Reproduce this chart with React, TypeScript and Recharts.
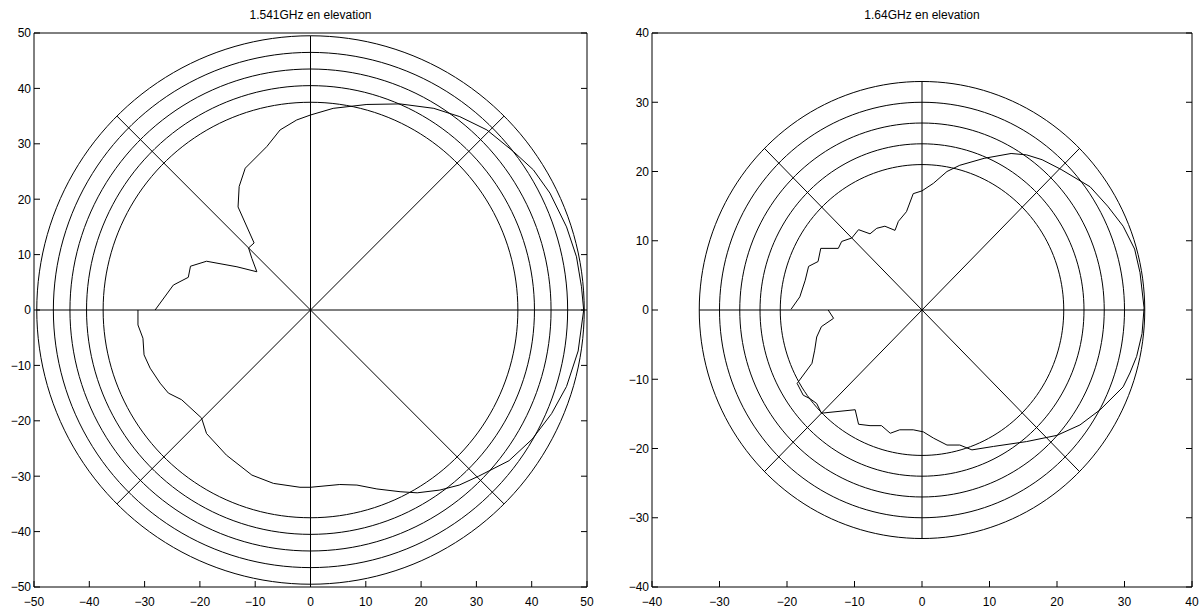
import React from 'react';
import { ScatterChart, Scatter, XAxis, YAxis } from 'recharts';

interface Pt {
  x: number;
  y: number;
}

// 1.541 GHz panel
const ticksA = [-50, -40, -30, -20, -10, 0, 10, 20, 30, 40, 50];
const ringsA = [37.5, 40.5, 43.5, 46.5, 49.5];
const patternA: Pt[] = [
  { x: -28.1, y: 0 }, { x: -24.8, y: 4.5 }, { x: -22.1, y: 5.9 }, { x: -21.7, y: 7.9 },
  { x: -18.8, y: 8.8 }, { x: -13.3, y: 7.8 }, { x: -9.7, y: 6.9 }, { x: -10.6, y: 9.3 },
  { x: -11.2, y: 11.2 }, { x: -10.2, y: 12.1 }, { x: -13.1, y: 18.6 }, { x: -12.9, y: 22.3 },
  { x: -11.8, y: 25.6 }, { x: -7.9, y: 29.5 }, { x: -5.5, y: 32.5 }, { x: -2.5, y: 34.3 },
  { x: 0, y: 35.2 }, { x: 4.1, y: 36.4 }, { x: 10.2, y: 37.1 }, { x: 16.2, y: 37.2 },
  { x: 22.3, y: 36.4 }, { x: 27.0, y: 34.9 }, { x: 31.9, y: 32.5 }, { x: 36.7, y: 28.6 },
  { x: 40.3, y: 25.3 }, { x: 43.3, y: 21.1 }, { x: 46.3, y: 15.0 }, { x: 48.1, y: 9.6 },
  { x: 49.0, y: 4.2 }, { x: 49.4, y: 0 }, { x: 48.4, y: -7.4 }, { x: 46.3, y: -13.8 },
  { x: 43.6, y: -18.7 }, { x: 40.1, y: -23.3 }, { x: 35.9, y: -27.2 }, { x: 30.4, y: -30.0 },
  { x: 26.9, y: -31.6 }, { x: 23.4, y: -32.5 }, { x: 19.3, y: -33.0 }, { x: 16.2, y: -32.8 },
  { x: 12.0, y: -32.3 }, { x: 8.4, y: -31.6 }, { x: 5.3, y: -31.5 }, { x: 0, y: -32.0 },
  { x: -1.9, y: -32.0 }, { x: -6.7, y: -31.3 }, { x: -10.6, y: -29.8 }, { x: -15.2, y: -26.2 },
  { x: -18.8, y: -22.3 }, { x: -19.7, y: -19.5 }, { x: -23.3, y: -16.2 }, { x: -25.7, y: -15.0 },
  { x: -27.2, y: -13.2 }, { x: -29.0, y: -10.5 }, { x: -30.1, y: -8.1 }, { x: -30.3, y: -5.1 },
  { x: -31.2, y: -2.7 }, { x: -31.2, y: 0 },
];

// 1.64 GHz panel
const ticksB = [-40, -30, -20, -10, 0, 10, 20, 30, 40];
const ringsB = [21, 24, 27, 30, 33];
const patternB: Pt[] = [
  { x: -19.4, y: 0.1 }, { x: -18.1, y: 1.9 }, { x: -17.3, y: 4.3 }, { x: -16.8, y: 6.3 },
  { x: -15.4, y: 7.0 }, { x: -15.0, y: 8.9 }, { x: -12.4, y: 8.9 }, { x: -11.9, y: 9.9 },
  { x: -10.4, y: 10.4 }, { x: -9.4, y: 11.6 }, { x: -7.7, y: 11.0 }, { x: -6.7, y: 11.8 },
  { x: -5.5, y: 12.1 }, { x: -4.0, y: 11.5 }, { x: -3.5, y: 12.8 }, { x: -2.3, y: 14.2 },
  { x: -1.3, y: 16.8 }, { x: 0, y: 17.2 }, { x: 1.7, y: 18.3 }, { x: 3.7, y: 20.0 },
  { x: 5.6, y: 20.9 }, { x: 9.2, y: 21.9 }, { x: 13.2, y: 22.6 }, { x: 15.5, y: 22.4 },
  { x: 17.8, y: 21.7 }, { x: 20.6, y: 20.3 }, { x: 24.9, y: 17.8 }, { x: 27.5, y: 15.0 },
  { x: 29.8, y: 12.1 }, { x: 31.5, y: 8.8 }, { x: 32.3, y: 5.4 }, { x: 32.9, y: 0.3 },
  { x: 32.6, y: -3.4 }, { x: 31.8, y: -6.7 }, { x: 30.8, y: -9.1 }, { x: 29.8, y: -11.1 },
  { x: 26.4, y: -14.4 }, { x: 23.4, y: -16.6 }, { x: 20.0, y: -18.1 }, { x: 15.5, y: -19.0 },
  { x: 10.6, y: -19.7 }, { x: 7.4, y: -20.2 }, { x: 5.6, y: -19.5 }, { x: 3.7, y: -19.5 },
  { x: 1.7, y: -18.5 }, { x: 0.2, y: -17.6 }, { x: -1.3, y: -17.3 }, { x: -3.3, y: -17.3 },
  { x: -4.7, y: -17.8 }, { x: -6.0, y: -16.7 }, { x: -7.7, y: -16.7 }, { x: -9.4, y: -16.5 },
  { x: -9.9, y: -14.4 }, { x: -14.9, y: -14.9 }, { x: -15.6, y: -13.5 }, { x: -16.6, y: -12.8 },
  { x: -17.6, y: -12.3 }, { x: -18.5, y: -10.6 }, { x: -16.3, y: -7.7 }, { x: -15.9, y: -5.8 },
  { x: -15.6, y: -3.9 }, { x: -14.9, y: -2.4 }, { x: -13.1, y: -1.2 }, { x: -13.9, y: 0 },
];

const spokeAngles = [0, 45, 90, 135];

const H = 612;
const FONT = '"Liberation Sans", Arial, Helvetica, sans-serif';
const TICK = 6;

const fmt = (v: number) => (v < 0 ? `\u2212${Math.abs(v)}` : `${v}`);

function circlePoints(r: number): Pt[] {
  const pts: Pt[] = [];
  for (let a = 0; a <= 360; a += 2) {
    const t = (a * Math.PI) / 180;
    pts.push({ x: r * Math.cos(t), y: r * Math.sin(t) });
  }
  return pts;
}

function spokePoints(r: number, deg: number): Pt[] {
  const t = (deg * Math.PI) / 180;
  return [
    { x: r * Math.cos(t), y: r * Math.sin(t) },
    { x: -r * Math.cos(t), y: -r * Math.sin(t) },
  ];
}

const noDot = () => <g />;
const lineStyle = { stroke: '#000', strokeWidth: 1 };

interface Box {
  x0: number;
  x1: number;
  y0: number;
  y1: number;
}

interface PanelProps {
  title: string;
  ticks: number[];
  rings: number[];
  pattern: Pt[];
  left: number;
  width: number;
  box: Box;
}

const Panel = ({ title, ticks, rings, pattern, left, width, box }: PanelProps) => {
  const lim: [number, number] = [ticks[0], ticks[ticks.length - 1]];
  const plotL = box.x0 - left;
  const plotR = box.x1 - left;
  const rMax = rings[rings.length - 1];
  const textStyle = { fontFamily: FONT, fontSize: 12, fill: '#000' };

  return (
    <div style={{ position: 'absolute', left, top: 0, width, height: H }}>
      <div
        style={{
          position: 'absolute',
          left: plotL,
          width: plotR - plotL,
          top: 7,
          textAlign: 'center',
          fontFamily: FONT,
          fontSize: 12,
          lineHeight: '16px',
          color: '#000',
        }}
      >
        {title}
      </div>
      <ScatterChart
        width={width}
        height={H}
        margin={{ top: box.y0, right: width - plotR, bottom: 0, left: 0 }}
      >
        <XAxis
          xAxisId="b"
          type="number"
          dataKey="x"
          domain={lim}
          ticks={ticks}
          interval={0}
          allowDataOverflow
          height={H - box.y1}
          axisLine={lineStyle}
          tickLine={false}
          tick={(p: any) => (
            <g>
              <line x1={p.x} x2={p.x} y1={box.y1} y2={box.y1 - TICK} stroke="#000" />
              <text x={p.x} y={box.y1 + 19} textAnchor="middle" {...textStyle}>
                {fmt(p.payload.value)}
              </text>
            </g>
          )}
        />
        <XAxis
          xAxisId="t"
          orientation="top"
          mirror
          type="number"
          domain={lim}
          ticks={ticks}
          interval={0}
          allowDataOverflow
          axisLine={lineStyle}
          tickLine={false}
          tick={(p: any) => (
            <line x1={p.x} x2={p.x} y1={box.y0} y2={box.y0 + TICK} stroke="#000" />
          )}
        />
        <YAxis
          yAxisId="l"
          type="number"
          dataKey="y"
          domain={lim}
          ticks={ticks}
          interval={0}
          allowDataOverflow
          width={plotL}
          axisLine={lineStyle}
          tickLine={false}
          tick={(p: any) => (
            <g>
              <line x1={plotL} x2={plotL + TICK} y1={p.y} y2={p.y} stroke="#000" />
              <text x={plotL - 3} y={p.y} dy="0.36em" textAnchor="end" {...textStyle}>
                {fmt(p.payload.value)}
              </text>
            </g>
          )}
        />
        <YAxis
          yAxisId="r"
          orientation="right"
          mirror
          type="number"
          domain={lim}
          ticks={ticks}
          interval={0}
          allowDataOverflow
          axisLine={lineStyle}
          tickLine={false}
          tick={(p: any) => (
            <line x1={plotR} x2={plotR - TICK} y1={p.y} y2={p.y} stroke="#000" />
          )}
        />
        {rings.map((r) => (
          <Scatter
            key={`ring-${r}`}
            xAxisId="b"
            yAxisId="l"
            data={circlePoints(r)}
            line={lineStyle}
            stroke="#000"
            shape={noDot}
            isAnimationActive={false}
          />
        ))}
        {spokeAngles.map((a) => (
          <Scatter
            key={`spoke-${a}`}
            xAxisId="b"
            yAxisId="l"
            data={spokePoints(rMax, a)}
            line={lineStyle}
            stroke="#000"
            shape={noDot}
            isAnimationActive={false}
          />
        ))}
        <Scatter
          xAxisId="b"
          yAxisId="l"
          data={pattern}
          line={lineStyle}
          stroke="#000"
          shape={noDot}
          isAnimationActive={false}
        />
      </ScatterChart>
    </div>
  );
};

export default function App() {
  return (
    <div
      style={{
        position: 'absolute',
        left: 0,
        top: 0,
        width: 1203,
        height: H,
        background: '#fff',
        overflow: 'hidden',
      }}
    >
      <Panel
        title="1.541GHz en elevation"
        ticks={ticksA}
        rings={ringsA}
        pattern={patternA}
        left={0}
        width={600}
        box={{ x0: 34, x1: 587, y0: 33, y1: 587 }}
      />
      <Panel
        title="1.64GHz en elevation"
        ticks={ticksB}
        rings={ringsB}
        pattern={patternB}
        left={600}
        width={603}
        box={{ x0: 652, x1: 1192, y0: 33, y1: 587 }}
      />
    </div>
  );
}
